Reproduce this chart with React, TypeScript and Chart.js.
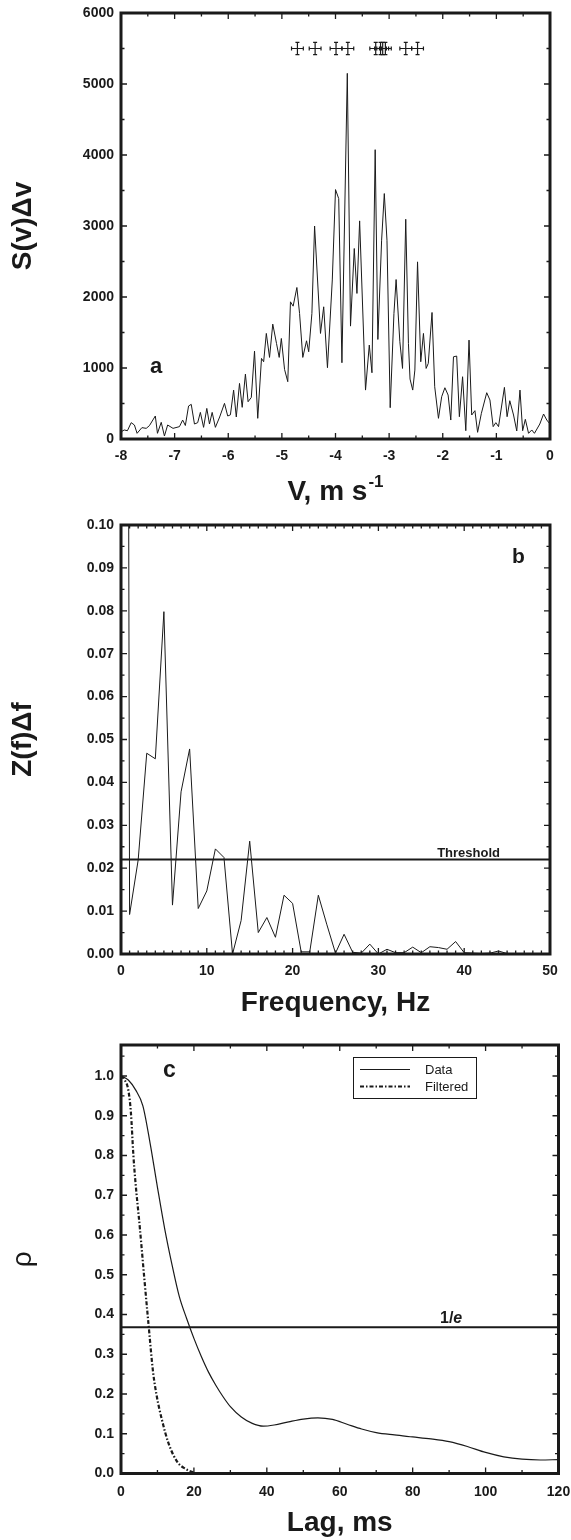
import React, { useEffect, useRef } from 'react';
import { Chart, registerables } from 'chart.js';

Chart.register(...registerables);

const FONT = '"Liberation Sans", Arial, Helvetica, sans-serif';
const INK = '#1a1a1a';

// ---------- Panel a : velocity spectrum ----------
const velocity = [
  -8.00, -7.94, -7.88, -7.81, -7.75, -7.70, -7.61, -7.53, -7.47, -7.36,
  -7.32, -7.25, -7.19, -7.13, -7.03, -6.91, -6.85, -6.80, -6.74, -6.69,
  -6.63, -6.57, -6.52, -6.46, -6.40, -6.35, -6.30, -6.24, -6.16, -6.07,
  -6.01, -5.96, -5.90, -5.85, -5.79, -5.74, -5.68, -5.63, -5.57, -5.51,
  -5.45, -5.38, -5.34, -5.29, -5.23, -5.17, -5.10, -5.05, -5.01, -4.95,
  -4.89, -4.84, -4.79, -4.72, -4.67, -4.61, -4.54, -4.50, -4.44, -4.39,
  -4.28, -4.22, -4.15, -4.06, -4.00, -3.94, -3.88, -3.78, -3.72, -3.65,
  -3.60, -3.55, -3.44, -3.37, -3.32, -3.26, -3.21, -3.14, -3.09, -3.04,
  -2.98, -2.91, -2.87, -2.80, -2.75, -2.69, -2.64, -2.61, -2.56, -2.52,
  -2.47, -2.41, -2.36, -2.31, -2.27, -2.20, -2.15, -2.08, -2.02, -1.96,
  -1.90, -1.85, -1.80, -1.74, -1.69, -1.63, -1.57, -1.51, -1.46, -1.40,
  -1.35, -1.28, -1.18, -1.12, -1.06, -1.01, -0.96, -0.85, -0.80, -0.75,
  -0.68, -0.62, -0.56, -0.51, -0.46, -0.40, -0.34, -0.29, -0.19, -0.12,
  -0.06, 0.00,
];
const spectrum = [
  100, 127, 117, 230, 197, 80, 160, 150, 188, 324,
  80, 235, 42, 197, 150, 174, 267, 190, 465, 488,
  211, 230, 375, 164, 431, 211, 375, 164, 310, 502,
  324, 340, 689, 310, 783, 446, 914, 525, 586, 1238,
  291, 1135, 1088, 1487, 1149, 1618, 1346, 1149, 1416, 980,
  807, 1932, 1871, 2134, 1768, 1149, 1383, 1229, 1768, 3000,
  1487, 1862, 1004, 2240, 3513, 3386, 1074, 5150, 1590, 2683,
  2050, 3072, 689, 1323, 933, 4075, 1402, 2800, 3457, 2800,
  441, 1768, 2246, 1370, 994, 3095, 1346, 844, 689, 971,
  2495, 1088, 1487, 994, 1065, 1782, 736, 291, 596, 722,
  619, 267, 1158, 1168, 314, 877, 117, 1393, 338, 399,
  94, 361, 652, 549, 174, 230, 174, 727, 314, 539,
  338, 113, 689, 117, 277, 80, 127, 80, 211, 352,
  267, 211,
];
const peakVelocity = [-4.71, -4.38, -3.99, -3.77, -3.25, -3.16, -3.12, -3.07, -2.69, -2.47];
const peakLevel = 5500;
const peakErrV = 0.11;
const peakErrS = 85;

// ---------- Panel b : frequency spectrum ----------
const frequency = [
  0, 1, 2, 3, 4, 5, 6, 7, 8, 9, 10, 11, 12, 13, 14, 15, 16, 17, 18, 19, 20,
  21, 22, 23, 24, 25, 26, 27, 28, 29, 30, 31, 32, 33, 34, 35, 36, 37, 38, 39, 40,
  41, 42, 43, 44, 45, 46, 47, 48, 49, 50,
];
const amplitude = [
  0.9, 0.0092, 0.0219, 0.0468, 0.0455, 0.0798, 0.0114, 0.0378, 0.0478, 0.0106, 0.0147,
  0.0245, 0.0225, 0.0, 0.0078, 0.0263, 0.0050, 0.0085, 0.0039, 0.0137, 0.0118,
  0.0005, 0.0005, 0.0137, 0.0068, 0.0002, 0.0046, 0.0004, 0.0002, 0.0023, 0.0,
  0.0011, 0.0003, 0.0003, 0.0016, 0.0003, 0.0017, 0.0015, 0.0011, 0.0029, 0.0003,
  0.0002, 0.0001, 0.0002, 0.0007, 0.0001, 0.0001, 0.0, 0.0001, 0.0, 0.0,
];
const threshold = 0.022;

// ---------- Panel c : autocorrelation ----------
const lagData = [0, 2, 4, 6, 8, 10, 12, 14, 16, 18, 20, 22, 24, 26, 28, 30, 33, 36, 39, 42, 46, 50, 54, 58, 62, 66, 70, 75, 80, 85, 90, 95, 100, 105, 110, 115, 120];
const rhoData = [1.0, 0.99, 0.965, 0.925, 0.83, 0.72, 0.615, 0.525, 0.445, 0.39, 0.34, 0.295, 0.255, 0.222, 0.193, 0.168, 0.142, 0.126, 0.119, 0.122, 0.130, 0.137, 0.140, 0.136, 0.124, 0.112, 0.103, 0.097, 0.092, 0.087, 0.080, 0.068, 0.053, 0.042, 0.036, 0.034, 0.035];
const lagFiltered = [0, 1, 2, 2.7, 3.4, 3.9, 5.2, 6.4, 7.6, 8.8, 9.8, 11.2, 13, 15.3, 17.6, 20];
const rhoFiltered = [1.0, 0.99, 0.965, 0.91, 0.8, 0.74, 0.615, 0.49, 0.37, 0.255, 0.195, 0.136, 0.077, 0.031, 0.012, 0.002];
const invE = 0.368;

// ---------- plugins ----------
const frameTicks = {
  id: 'frameTicks',
  afterDatasetsDraw(chart: any, _args: any, opts: any) {
    const { ctx, chartArea: a, scales } = chart;
    const x = scales.x, y = scales.y;
    ctx.save();
    ctx.strokeStyle = INK;
    ctx.lineWidth = 1.3;
    const xMajor = x.options.ticks.stepSize;
    const yMajor = y.options.ticks.stepSize;
    const isMajor = (v: number, m: number) => Math.abs(v / m - Math.round(v / m)) < 1e-6;
    const nx = Math.floor((x.max - x.min) / opts.xMinor + 1e-6);
    ctx.beginPath();
    for (let i = 0; i <= nx; i++) {
      const v = x.min + i * opts.xMinor;
      const p = x.getPixelForValue(v);
      const len = isMajor(v, xMajor) ? opts.major : opts.minor;
      ctx.moveTo(p, a.bottom); ctx.lineTo(p, a.bottom - len);
      ctx.moveTo(p, a.top); ctx.lineTo(p, a.top + len);
    }
    const ny = Math.floor((y.max - y.min) / opts.yMinor + 1e-6);
    for (let i = 0; i <= ny; i++) {
      const v = y.min + i * opts.yMinor;
      const p = y.getPixelForValue(v);
      const len = isMajor(v, yMajor) ? opts.major : opts.minor;
      ctx.moveTo(a.left, p); ctx.lineTo(a.left + len, p);
      ctx.moveTo(a.right, p); ctx.lineTo(a.right - len, p);
    }
    ctx.stroke();
    ctx.lineWidth = opts.frame;
    ctx.strokeRect(a.left, a.top, a.right - a.left, a.bottom - a.top);
    ctx.restore();
  },
};

const panelAExtras = {
  id: 'panelAExtras',
  afterDraw(chart: any) {
    const { ctx, chartArea: a, scales } = chart;
    const x = scales.x, y = scales.y;
    ctx.save();
    ctx.strokeStyle = INK;
    ctx.fillStyle = INK;
    ctx.lineWidth = 1.2;
    peakVelocity.forEach((v) => {
      const cx = x.getPixelForValue(v), cy = y.getPixelForValue(peakLevel);
      const x0 = x.getPixelForValue(v - peakErrV), x1 = x.getPixelForValue(v + peakErrV);
      const y0 = y.getPixelForValue(peakLevel + peakErrS), y1 = y.getPixelForValue(peakLevel - peakErrS);
      ctx.beginPath();
      ctx.moveTo(x0, cy); ctx.lineTo(x1, cy);
      ctx.moveTo(cx, y0); ctx.lineTo(cx, y1);
      ctx.moveTo(x0, cy - 2); ctx.lineTo(x0, cy + 2);
      ctx.moveTo(x1, cy - 2); ctx.lineTo(x1, cy + 2);
      ctx.moveTo(cx - 2, y0); ctx.lineTo(cx + 2, y0);
      ctx.moveTo(cx - 2, y1); ctx.lineTo(cx + 2, y1);
      ctx.stroke();
    });
    ctx.textAlign = 'left';
    ctx.textBaseline = 'alphabetic';
    ctx.font = `bold 22px ${FONT}`;
    ctx.fillText('a', a.left + 29, a.bottom - 66);
    const main = 'V, m s', sup = '-1';
    ctx.font = `bold 28px ${FONT}`;
    const w1 = ctx.measureText(main).width;
    ctx.font = `bold 17px ${FONT}`;
    const w2 = ctx.measureText(sup).width;
    const x0 = (a.left + a.right) / 2 - (w1 + 1 + w2) / 2;
    ctx.font = `bold 28px ${FONT}`;
    ctx.fillText(main, x0, a.bottom + 61);
    ctx.font = `bold 17px ${FONT}`;
    ctx.fillText(sup, x0 + w1 + 1, a.bottom + 48);
    ctx.restore();
  },
};

const panelBExtras = {
  id: 'panelBExtras',
  afterDraw(chart: any) {
    const { ctx, chartArea: a, scales } = chart;
    ctx.save();
    ctx.fillStyle = INK;
    ctx.textBaseline = 'alphabetic';
    ctx.textAlign = 'left';
    ctx.font = `bold 21px ${FONT}`;
    ctx.fillText('b', a.right - 38, a.top + 38);
    ctx.font = `bold 13px ${FONT}`;
    ctx.textAlign = 'right';
    ctx.fillText('Threshold', a.right - 50, scales.y.getPixelForValue(threshold) - 3);
    ctx.restore();
  },
};

const panelCExtras = {
  id: 'panelCExtras',
  afterDraw(chart: any) {
    const { ctx, chartArea: a, scales } = chart;
    ctx.save();
    ctx.fillStyle = INK;
    ctx.strokeStyle = INK;
    ctx.textBaseline = 'alphabetic';
    ctx.textAlign = 'left';
    ctx.font = `bold 23px ${FONT}`;
    ctx.fillText('c', a.left + 42, a.top + 32);
    const ly = scales.y.getPixelForValue(invE) - 4.5;
    ctx.font = `bold 16px ${FONT}`;
    const t1 = '1/';
    ctx.fillText(t1, a.left + 319, ly);
    const w = ctx.measureText(t1).width;
    ctx.font = `italic bold 16px ${FONT}`;
    ctx.fillText('e', a.left + 319 + w, ly);
    // legend
    const bx = a.left + 232, by = a.top + 12, bw = 123, bh = 41;
    ctx.lineWidth = 1;
    ctx.strokeRect(bx + 0.5, by + 0.5, bw, bh);
    const items = chart.data.datasets.filter((d: any) => d.inLegend);
    items.forEach((d: any, i: number) => {
      const yy = by + 12.5 + i * 17;
      ctx.save();
      ctx.lineWidth = d.borderWidth;
      ctx.setLineDash(d.borderDash || []);
      ctx.beginPath();
      ctx.moveTo(bx + 7, yy);
      ctx.lineTo(bx + 57, yy);
      ctx.stroke();
      ctx.restore();
      ctx.font = `13px ${FONT}`;
      ctx.textBaseline = 'middle';
      ctx.fillText(d.label, bx + 72, yy + 0.5);
    });
    ctx.restore();
  },
};

function axis(o: {
  min: number; max: number; step: number; fmt: (v: number) => string;
  padding: number; size: number; isX: boolean; title?: any; includeBounds?: boolean;
}) {
  return {
    type: 'linear',
    min: o.min,
    max: o.max,
    grid: { display: false, drawTicks: false },
    border: { display: false },
    ticks: {
      stepSize: o.step,
      padding: o.padding,
      autoSkip: false,
      maxRotation: 0,
      includeBounds: o.includeBounds ?? true,
      color: INK,
      font: { family: FONT, size: 14, weight: 'bold' },
      callback: (v: any) => o.fmt(Number(v)),
    },
    title: o.title ?? { display: false },
    afterFit: (s: any) => {
      if (o.isX) s.height = o.size; else s.width = o.size;
      s.paddingLeft = 0;
      s.paddingRight = 0;
      s.paddingTop = 0;
      s.paddingBottom = 0;
    },
  };
}

const yTitle = (text: string, weight: string) => ({
  display: true,
  text,
  color: INK,
  font: { family: FONT, size: 28, weight },
  padding: { top: 6, bottom: 0 },
});

const baseOpts = (padTop: number, padRight: number, minor: any, scales: any) => ({
  animation: false,
  responsive: false,
  devicePixelRatio: 1,
  layout: { padding: { left: 0, top: padTop, right: padRight, bottom: 0 } },
  plugins: {
    legend: { display: false },
    tooltip: { enabled: false },
    frameTicks: { major: 6, minor: 3.5, frame: 3, ...minor },
  },
  scales,
});

const cfgA = (): any => ({
  type: 'line',
  data: {
    datasets: [{
      label: 'S(v)Δv',
      data: velocity.map((v, i) => ({ x: v, y: spectrum[i] })),
      borderColor: INK, borderWidth: 1, pointRadius: 0, tension: 0, fill: false,
    }],
  },
  options: baseOpts(13, 21, { xMinor: 0.5, yMinor: 500 }, {
    x: axis({ min: -8, max: 0, step: 1, fmt: (v) => String(v), padding: 9, size: 71, isX: true }),
    y: axis({ min: 0, max: 6000, step: 1000, fmt: (v) => String(v), padding: 7, size: 121, isX: false, title: yTitle('S(v)Δv', 'bold') }),
  }),
  plugins: [frameTicks, panelAExtras],
});

const cfgB = (): any => ({
  type: 'line',
  data: {
    datasets: [
      {
        label: 'Z(f)Δf',
        data: frequency.map((f, i) => ({ x: f, y: amplitude[i] })),
        borderColor: INK, borderWidth: 1, pointRadius: 0, tension: 0, fill: false,
      },
      {
        label: 'Threshold',
        data: [{ x: frequency[0], y: threshold }, { x: frequency[frequency.length - 1], y: threshold }],
        borderColor: INK, borderWidth: 2, pointRadius: 0, fill: false,
      },
    ],
  },
  options: baseOpts(15, 21, { xMinor: 1, yMinor: 0.005 }, {
    x: axis({
      min: 0, max: 50, step: 10, fmt: (v) => String(v), padding: 9, size: 71, isX: true,
      title: { display: true, text: 'Frequency, Hz', color: INK, font: { family: FONT, size: 28, weight: 'bold' }, padding: { top: 0, bottom: 5 } },
    }),
    y: axis({ min: 0, max: 0.1, step: 0.01, fmt: (v) => v.toFixed(2), padding: 7, size: 121, isX: false, title: yTitle('Z(f)Δf', 'bold') }),
  }),
  plugins: [frameTicks, panelBExtras],
});

const cfgC = (): any => ({
  type: 'line',
  data: {
    datasets: [
      {
        label: 'Data', inLegend: true,
        data: lagData.map((l, i) => ({ x: l, y: rhoData[i] })),
        borderColor: INK, borderWidth: 1.2, pointRadius: 0, cubicInterpolationMode: 'monotone', fill: false,
      },
      {
        label: 'Filtered', inLegend: true,
        data: lagFiltered.map((l, i) => ({ x: l, y: rhoFiltered[i] })),
        borderColor: INK, borderWidth: 2.2, borderDash: [4, 2, 1.5, 2], pointRadius: 0, cubicInterpolationMode: 'monotone', fill: false,
      },
      {
        label: '1/e',
        data: [{ x: 0, y: invE }, { x: 120, y: invE }],
        borderColor: INK, borderWidth: 2, pointRadius: 0, fill: false,
      },
    ],
  },
  options: baseOpts(20, 12.5, { xMinor: 10, yMinor: 0.05 }, {
    x: axis({
      min: 0, max: 120, step: 20, fmt: (v) => String(v), padding: 10, size: 66.5, isX: true,
      title: { display: true, text: 'Lag, ms', color: INK, font: { family: FONT, size: 28, weight: 'bold' }, padding: { top: 0, bottom: 0 } },
    }),
    y: axis({ min: 0, max: 1.078, step: 0.1, includeBounds: false, fmt: (v) => v.toFixed(1), padding: 7, size: 121, isX: false, title: yTitle('ρ', 'normal') }),
  }),
  plugins: [frameTicks, panelCExtras],
});

export default function App() {
  const refA = useRef<HTMLCanvasElement>(null);
  const refB = useRef<HTMLCanvasElement>(null);
  const refC = useRef<HTMLCanvasElement>(null);

  useEffect(() => {
    const charts = [
      new Chart(refA.current as HTMLCanvasElement, cfgA()),
      new Chart(refB.current as HTMLCanvasElement, cfgB()),
      new Chart(refC.current as HTMLCanvasElement, cfgC()),
    ];
    return () => charts.forEach((c) => c.destroy());
  }, []);

  const cs = (top: number, h: number): React.CSSProperties => ({
    position: 'absolute', left: 0, top, width: 571, height: h, display: 'block',
  });

  return (
    <div style={{ position: 'absolute', left: 0, top: 0, width: 571, height: 1540, background: '#fff' }}>
      <canvas ref={refA} width={571} height={510} style={cs(0, 510)} />
      <canvas ref={refB} width={571} height={515} style={cs(510, 515)} />
      <canvas ref={refC} width={571} height={515} style={cs(1025, 515)} />
    </div>
  );
}
